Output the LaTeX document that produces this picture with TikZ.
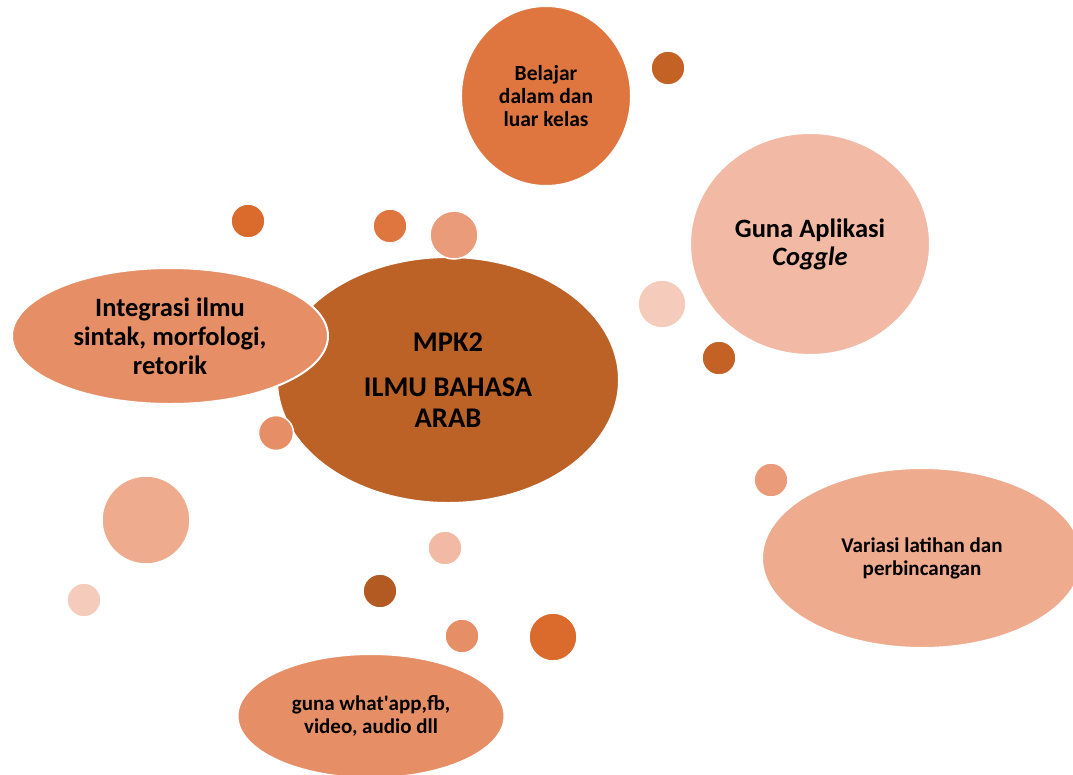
\documentclass[tikz,border=0pt]{standalone}
\usepackage{fontspec}
\setmainfont{Carlito}
\usepackage{tikz}
\usetikzlibrary{shapes.geometric}
\definecolor{brownmain}{HTML}{BC6226}
\definecolor{peach}{HTML}{E68F66}
\definecolor{orangemid}{HTML}{DF763F}
\definecolor{pinklight}{HTML}{F2B9A4}
\definecolor{salmon}{HTML}{EFAB8E}
\definecolor{palepink}{HTML}{F5CBBC}
\definecolor{rust}{HTML}{C46125}
\definecolor{darkrust}{HTML}{B35A22}
\definecolor{flame}{HTML}{DA6B2C}
\definecolor{coral}{HTML}{EA9C7A}
\tikzstyle{bubble} = [ellipse, draw=white, line width=2pt, inner sep=0pt, text centered, align=center, font=\bfseries]
\tikzstyle{dot} = [circle, draw=white, line width=1.5pt, inner sep=0pt]

\begin{document}
\begin{tikzpicture}[x=1pt,y=-1pt]
\clip (0,0) rectangle (1073,774);
\node (mpk) [bubble, fill=brownmain, minimum width=342pt, minimum height=246pt, font=\bfseries\fontsize{28.5}{31}\selectfont] at (448,380) {MPK2\\[14pt] ILMU BAHASA\\ ARAB};
\node (integrasi) [bubble, fill=peach, minimum width=316pt, minimum height=136pt, font=\bfseries\fontsize{26.5}{29}\selectfont] at (170,336) {Integrasi ilmu\\ sintak, morfologi,\\ retorik};
\node (belajar) [bubble, fill=orangemid, minimum width=170pt, minimum height=180pt, font=\bfseries\fontsize{21.5}{23}\selectfont] at (546,96) {Belajar\\ dalam dan\\ luar kelas};
\node (coggle) [bubble, fill=pinklight, minimum width=240pt, minimum height=222pt, font=\bfseries\fontsize{26.5}{28}\selectfont] at (810,244) {Guna Aplikasi\\ \textit{Coggle}};
\node (variasi) [bubble, fill=salmon, minimum width=320pt, minimum height=180pt, font=\bfseries\fontsize{21}{23}\selectfont] at (922,558) {Variasi latihan dan\\ perbincangan};
\node (guna) [bubble, fill=peach, minimum width=267pt, minimum height=124pt, font=\bfseries\fontsize{21}{22.5}\selectfont] at (371,716) {guna what\textquotesingle app,fb,\\ video, audio dll};

\node (dotA) [dot, fill=flame, minimum size=34pt] at (248,221) {};
\node (dotB) [dot, fill=orangemid, minimum size=34pt] at (390,226) {};
\node (dotC) [dot, fill=coral, minimum size=48pt] at (454,235) {};
\node (dotD) [dot, fill=rust, minimum size=34pt] at (668,68) {};
\node (dotE) [dot, fill=palepink, minimum size=48pt] at (662,304) {};
\node (dotF) [dot, fill=rust, minimum size=34pt] at (719,358) {};
\node (dotG) [dot, fill=peach, minimum size=35pt] at (276,433) {};
\node (dotH) [dot, fill=salmon, minimum size=88pt] at (146,520) {};
\node (dotI) [dot, fill=palepink, minimum size=34pt] at (84,600) {};
\node (dotJ) [dot, fill=pinklight, minimum size=34pt] at (445,548) {};
\node (dotK) [dot, fill=darkrust, minimum size=34pt] at (380,591) {};
\node (dotL) [dot, fill=peach, minimum size=34pt] at (462,636) {};
\node (dotM) [dot, fill=flame, minimum size=48pt] at (553,637) {};
\node (dotN) [dot, fill=coral, minimum size=34pt] at (771,480) {};
\end{tikzpicture}
\end{document}
